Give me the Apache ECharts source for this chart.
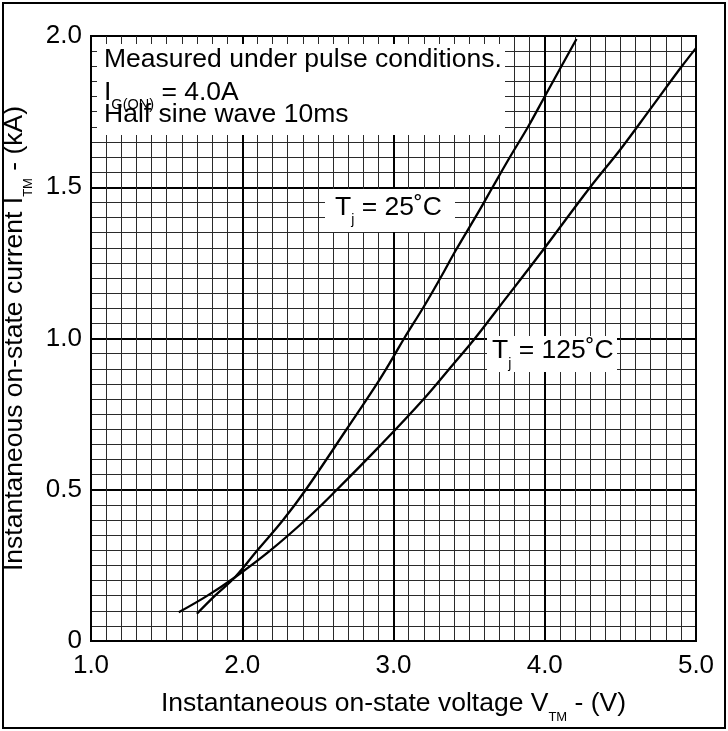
<!DOCTYPE html>
<html><head><meta charset="utf-8">
<script src="https://cdn.jsdelivr.net/npm/echarts@6/dist/echarts.min.js"></script>
<style>html,body{margin:0;padding:0;background:#fff}#c{width:728px;height:731px}</style>
</head><body><div id="c"></div>
<script>
// Tick labels
const xTickLabels = ['1.0', '2.0', '3.0', '4.0', '5.0'];
const yTickLabels = ['0', '0.5', '1.0', '1.5', '2.0'];

// Tj = 25 C curve: voltage (V) and current (kA)
const tj25V = [1.70, 1.82, 1.95, 2.10, 2.27, 2.42, 2.69, 2.89, 3.00, 3.07, 3.20, 3.31, 3.41, 3.57, 3.655, 3.77, 3.89, 4.00, 4.21];
const tj25I = [0.09, 0.15, 0.21, 0.30, 0.40, 0.50, 0.70, 0.85, 0.94, 1.00, 1.105, 1.20, 1.29, 1.425, 1.50, 1.60, 1.70, 1.80, 1.99];

// Tj = 125 C curve
const tj125V = [1.58, 1.77, 1.95, 2.18, 2.44, 2.625, 2.91, 3.20, 3.395, 3.53, 3.70, 3.97, 4.30, 4.50, 4.70, 4.905, 5.00];
const tj125I = [0.095, 0.15, 0.21, 0.297, 0.41, 0.50, 0.645, 0.80, 0.915, 0.995, 1.105, 1.28, 1.50, 1.625, 1.76, 1.899, 1.96];

const FONT = '"Liberation Sans", Arial, Helvetica, sans-serif';
const FS = 26.5;
const zip = (a, b) => a.map((v, i) => [v, b[i]]);

const subStyle = (size) => ({ fontSize: size, lineHeight: size, verticalAlign: 'bottom', fontFamily: FONT, color: '#000' });

const chart = echarts.init(document.getElementById('c'), null, { renderer: 'canvas' });
chart.setOption({
  animation: false,
  backgroundColor: '#fff',
  grid: { left: 91, top: 36, width: 605, height: 605, show: true, borderColor: '#000', borderWidth: 2,
    backgroundColor: 'transparent', containLabel: false, outerBoundsMode: 'none' },
  xAxis: {
    type: 'value', min: 1, max: 5, interval: 1,
    axisLine: { show: true, lineStyle: { color: '#000', width: 2 } },
    axisTick: { show: false },
    axisLabel: { margin: 12, fontSize: 26, fontFamily: FONT, color: '#000',
      formatter: v => xTickLabels[Math.round(v - 1)] },
    splitLine: { show: true, lineStyle: { color: '#000', width: 2 } },
    minorTick: { show: false, splitNumber: 10 },
    minorSplitLine: { show: true, lineStyle: { color: '#2a2a2a', width: 1 } },
    name: 'Instantaneous on-state voltage V{sub|TM} - (V)',
    nameLocation: 'middle', nameGap: 40,
    nameTextStyle: { fontSize: FS, lineHeight: 40, fontFamily: FONT, color: '#000', rich: { sub: subStyle(13) } }
  },
  yAxis: {
    type: 'value', min: 0, max: 2, interval: 0.5,
    axisLine: { show: true, lineStyle: { color: '#000', width: 2 } },
    axisTick: { show: false },
    axisLabel: { margin: 9, fontSize: 26, fontFamily: FONT, color: '#000',
      formatter: v => yTickLabels[Math.round(v / 0.5)] },
    splitLine: { show: true, lineStyle: { color: '#000', width: 2 } },
    minorTick: { show: false, splitNumber: 10 },
    minorSplitLine: { show: true, lineStyle: { color: '#2a2a2a', width: 1 } },
    name: 'Instantaneous on-state current I{sub|TM} - (kA)',
    nameLocation: 'middle', nameGap: 43,
    nameTextStyle: { fontSize: FS, lineHeight: 40, fontFamily: FONT, color: '#000', rich: { sub: subStyle(13) } }
  },
  series: [
    { name: 'Tj=25', type: 'line', data: zip(tj25V, tj25I), smooth: 0.4, showSymbol: false, z: 10,
      lineStyle: { color: '#000', width: 2.3 } },
    { name: 'Tj=125', type: 'line', data: zip(tj125V, tj125I), smooth: 0.4, showSymbol: false, z: 10,
      lineStyle: { color: '#000', width: 2.3 } }
  ],
  graphic: [
    { type: 'rect', z: 5, shape: { x: 97, y: 44, width: 408, height: 91 }, style: { fill: '#fff' } },
    { type: 'rect', z: 5, shape: { x: 325, y: 189, width: 130, height: 43 }, style: { fill: '#fff' } },
    { type: 'rect', z: 5, shape: { x: 487, y: 336, width: 130, height: 36 }, style: { fill: '#fff' } },
    { type: 'text', z: 12, x: 104, y: 59.3, style: { text: 'Measured under pulse conditions.', fontSize: FS, fontFamily: FONT, fill: '#000', verticalAlign: 'middle', align: 'left' } },
    { type: 'text', z: 12, x: 104, y: 92.5, style: { text: 'I{sub|G(ON)} = 4.0A', fontSize: FS, lineHeight: 40, fontFamily: FONT, fill: '#000', verticalAlign: 'middle', align: 'left',
      rich: { sub: subStyle(14.5) } } },
    { type: 'text', z: 12, x: 104, y: 114.3, style: { text: 'Half sine wave 10ms', fontSize: FS, fontFamily: FONT, fill: '#000', verticalAlign: 'middle', align: 'left' } },
    { type: 'text', z: 12, x: 335, y: 207.5, style: { text: 'T{sub|j} = 25˚C', fontSize: FS, lineHeight: 40, fontFamily: FONT, fill: '#000', verticalAlign: 'middle', align: 'left',
      rich: { sub: subStyle(14) } } },
    { type: 'text', z: 12, x: 492, y: 351, style: { text: 'T{sub|j} = 125˚C', fontSize: FS, lineHeight: 40, fontFamily: FONT, fill: '#000', verticalAlign: 'middle', align: 'left',
      rich: { sub: subStyle(14) } } },
    { type: 'rect', z: 20, shape: { x: 3, y: 3, width: 722, height: 725 }, style: { fill: 'none', stroke: '#000', lineWidth: 2 } }
  ]
});
</script></body></html>
